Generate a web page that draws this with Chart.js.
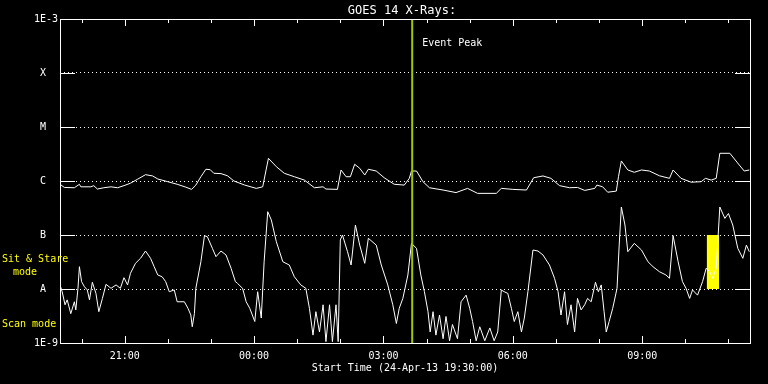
<!DOCTYPE html>
<html><head><meta charset="utf-8">
<script src="https://cdn.jsdelivr.net/npm/chart.js@4/dist/chart.umd.min.js"></script>
<style>html,body{margin:0;padding:0;background:#000;}canvas{display:block}</style>
</head><body>
<canvas id="c" width="768" height="384"></canvas>
<script>
// ---- text ----
const titleText = 'GOES 14 X-Rays:';
const startLabel = 'Start Time (24-Apr-13 19:30:00)';
const eventLabel = 'Event Peak';
const modeLabels = ['Sit & Stare', '  mode', 'Scan mode'];

// ---- axes (x in minutes since 19:30) ----
const xMin = 0, xMax = 960;
const xTickMinutes = [30, 90, 150, 210, 270, 330, 390, 450, 510, 570, 630, 690, 750, 810, 870, 930];
const xTickLabels  = ['', '21:00', '', '', '00:00', '', '', '03:00', '', '', '06:00', '', '', '09:00', '', ''];
const yTickValues = [1e-9, 1e-8, 1e-7, 1e-6, 1e-5, 1e-4, 1e-3];
const yTickLabels = ['1E-9', 'A  ', 'B  ', 'C  ', 'M  ', 'X  ', '1E-3'];

// ---- markers ----
const eventPeakMinute = 490;          // 03:40
const sitStareStart = 900, sitStareEnd = 917;   // 10:30 - 10:47
const sitStareLow = 1e-8, sitStareHigh = 1e-7;

// ---- 1-8 A channel (upper) ----
const longTimes = [
  0,6,20,27,29,43,47,52,61,71,
  80,89,98,108,119,129,136,150,163,175,
  183,189,196,203,209,214,224,233,242,257,
  273,282,290,301,312,326,340,354,366,370,
  386,391,398,404,410,417,424,429,440,451,
  465,479,486,489,496,505,514,533,551,567,
  581,607,614,630,649,659,672,683,695,709,
  720,730,744,747,755,762,774,777,781,790,
  799,809,820,834,848,853,864,878,892,898,
  906,913,918,932,945,952,959];
const longFlux = [
  0.87e-6,0.76e-6,0.75e-6,0.87e-6,0.78e-6,0.78e-6,0.82e-6,0.71e-6,0.75e-6,0.78e-6,
  0.75e-6,0.82e-6,0.91e-6,1.08e-6,1.31e-6,1.24e-6,1.09e-6,0.97e-6,0.87e-6,0.77e-6,
  0.70e-6,0.84e-6,1.20e-6,1.65e-6,1.62e-6,1.39e-6,1.37e-6,1.25e-6,1.00e-6,0.84e-6,
  0.73e-6,0.78e-6,2.63e-6,1.84e-6,1.39e-6,1.20e-6,1.04e-6,0.75e-6,0.78e-6,0.71e-6,
  0.70e-6,1.60e-6,1.20e-6,1.20e-6,2.04e-6,1.72e-6,1.29e-6,1.65e-6,1.53e-6,1.15e-6,
  0.87e-6,0.84e-6,1.12e-6,1.53e-6,1.53e-6,0.97e-6,0.75e-6,0.68e-6,0.61e-6,0.73e-6,
  0.59e-6,0.59e-6,0.73e-6,0.70e-6,0.68e-6,1.15e-6,1.24e-6,1.12e-6,0.82e-6,0.75e-6,
  0.76e-6,0.67e-6,0.73e-6,0.84e-6,0.78e-6,0.62e-6,0.65e-6,1.20e-6,2.35e-6,1.60e-6,
  1.45e-6,1.60e-6,1.53e-6,1.25e-6,1.12e-6,1.60e-6,1.12e-6,0.95e-6,0.97e-6,1.12e-6,
  1.04e-6,1.12e-6,3.26e-6,3.26e-6,1.98e-6,1.53e-6,1.60e-6];

// ---- 0.5-4 A channel (lower) ----
const shortTimes = [
  0,3,7,10,15,20,22,25,27,30,
  34,38,41,45,50,54,59,64,71,78,
  84,89,94,98,105,112,119,126,131,136,
  142,147,152,159,163,173,178,182,184,187,
  189,196,201,205,212,217,224,231,238,244,
  247,254,259,264,271,275,280,284,289,294,
  301,310,319,326,335,342,347,352,356,361,
  366,370,375,379,384,387,390,393,400,405,
  411,417,424,429,440,447,456,463,468,472,
  477,484,489,496,502,507,512,515,519,523,
  528,533,537,542,546,553,558,565,570,574,
  579,584,591,598,604,609,614,618,623,628,
  632,637,642,646,651,658,665,672,681,688,
  693,697,702,706,711,716,720,725,730,734,
  739,745,749,753,757,760,764,769,775,778,
  781,786,790,799,809,818,825,834,843,848,
  853,860,866,871,876,880,887,894,899,904,
  908,913,918,925,930,936,943,950,955,959];
const shortFlux = [
  1.19e-8,0.89e-8,0.51e-8,0.63e-8,0.35e-8,0.58e-8,0.41e-8,1.03e-8,2.59e-8,1.37e-8,
  1.10e-8,0.96e-8,0.63e-8,1.33e-8,0.83e-8,0.38e-8,0.67e-8,1.22e-8,1.03e-8,1.19e-8,
  1.03e-8,1.62e-8,1.19e-8,1.95e-8,2.99e-8,3.70e-8,5.05e-8,3.70e-8,2.59e-8,1.82e-8,
  1.69e-8,1.37e-8,0.89e-8,0.96e-8,0.58e-8,0.58e-8,0.44e-8,0.33e-8,0.20e-8,0.35e-8,
  1.03e-8,3.20e-8,9.7e-8,9.3e-8,5.67e-8,3.97e-8,5.05e-8,4.26e-8,2.42e-8,1.37e-8,
  1.27e-8,1.03e-8,0.58e-8,0.44e-8,0.25e-8,0.89e-8,0.29e-8,3.20e-8,27e-8,19e-8,
  7.5e-8,3.20e-8,2.78e-8,1.69e-8,1.19e-8,1.03e-8,0.44e-8,0.14e-8,0.38e-8,0.16e-8,
  0.51e-8,0.106e-8,0.51e-8,0.106e-8,0.51e-8,0.106e-8,8.1e-8,10e-8,4.9e-8,2.78e-8,
  15.3e-8,6.5e-8,2.99e-8,8.7e-8,6.5e-8,2.78e-8,1.19e-8,0.51e-8,0.23e-8,0.44e-8,
  0.67e-8,1.82e-8,7.0e-8,5.67e-8,1.82e-8,0.89e-8,0.38e-8,0.16e-8,0.38e-8,0.14e-8,
  0.33e-8,0.12e-8,0.31e-8,0.11e-8,0.22e-8,0.12e-8,0.58e-8,0.77e-8,0.44e-8,0.25e-8,
  0.11e-8,0.20e-8,0.11e-8,0.19e-8,0.11e-8,0.16e-8,0.96e-8,0.89e-8,0.83e-8,0.44e-8,
  0.25e-8,0.38e-8,0.16e-8,0.29e-8,0.89e-8,5.27e-8,5.05e-8,4.26e-8,2.78e-8,1.58e-8,
  0.89e-8,0.33e-8,0.89e-8,0.22e-8,0.51e-8,0.16e-8,0.67e-8,0.41e-8,0.51e-8,0.67e-8,
  0.58e-8,1.33e-8,0.89e-8,1.19e-8,0.38e-8,0.16e-8,0.25e-8,0.44e-8,1.03e-8,6.5e-8,
  33e-8,15.3e-8,4.9e-8,7.0e-8,5.27e-8,3.20e-8,2.59e-8,2.09e-8,1.82e-8,1.58e-8,
  9.7e-8,3.20e-8,1.37e-8,1.03e-8,0.67e-8,0.96e-8,0.77e-8,1.37e-8,2.42e-8,2.09e-8,
  1.58e-8,2.42e-8,33e-8,20.3e-8,25e-8,15.3e-8,5.67e-8,3.70e-8,6.5e-8,4.9e-8];

const MONO = 'DejaVu Sans Mono';
const px = v => Math.round(v) + 0.5;

const overlay = {
  id: 'overlay',
  beforeDraw(chart) {
    const c = chart.ctx;
    c.save(); c.fillStyle = '#000'; c.fillRect(0, 0, chart.width, chart.height); c.restore();
  },
  beforeDatasetsDraw(chart) {
    const c = chart.ctx, xs = chart.scales.x, ys = chart.scales.y;
    const x0 = xs.getPixelForValue(sitStareStart), x1 = xs.getPixelForValue(sitStareEnd);
    const y0 = ys.getPixelForValue(sitStareHigh), y1 = ys.getPixelForValue(sitStareLow);
    c.save(); c.fillStyle = '#ffff00'; c.fillRect(x0, y0, x1 - x0, y1 - y0); c.restore();
  },
  afterDatasetsDraw(chart) {
    const c = chart.ctx, xs = chart.scales.x, ys = chart.scales.y, a = chart.chartArea;
    c.save();
    // event peak line
    const ex = xs.getPixelForValue(eventPeakMinute);
    c.strokeStyle = '#a0c800'; c.lineWidth = 2;
    c.beginPath(); c.moveTo(ex, a.top); c.lineTo(ex, a.bottom); c.stroke();
    // frame
    c.strokeStyle = '#fff'; c.lineWidth = 1;
    c.strokeRect(px(a.left), px(a.top), Math.round(a.right - a.left), Math.round(a.bottom - a.top));
    // x ticks top & bottom
    c.beginPath();
    xs.ticks.forEach((t, i) => {
      const x = px(xs.getPixelForValue(t.value));
      const len = xTickLabels[i] ? 7 : 4;
      c.moveTo(x, a.bottom); c.lineTo(x, a.bottom - len);
      c.moveTo(x, a.top); c.lineTo(x, a.top + len);
    });
    // y ticks left & right
    ys.ticks.forEach(t => {
      const y = px(ys.getPixelForValue(t.value));
      c.moveTo(a.left, y); c.lineTo(a.left + 15, y);
      c.moveTo(a.right, y); c.lineTo(a.right - 15, y);
    });
    c.stroke();
    // texts
    c.fillStyle = '#fff';
    c.font = '12px "' + MONO + '"';
    c.textAlign = 'center'; c.textBaseline = 'alphabetic';
    c.fillText(titleText, 402, 14);
    c.font = '10px "' + MONO + '"';
    c.textAlign = 'left';
    c.fillText(eventLabel, ex + 10, 46);
    c.fillStyle = '#ffff00';
    c.fillText(modeLabels[0], 2, 262);
    c.fillText(modeLabels[1], 1, 275);
    c.fillText(modeLabels[2], 2, 327);
    c.restore();
  }
};

new Chart(document.getElementById('c'), {
  type: 'line',
  data: {
    datasets: [
      { label: '0.5-4.0 A', data: shortTimes.map((t, i) => ({ x: t, y: shortFlux[i] })),
        borderColor: '#ffffff', borderWidth: 1, pointRadius: 0, tension: 0, fill: false },
      { label: '1.0-8.0 A', data: longTimes.map((t, i) => ({ x: t, y: longFlux[i] })),
        borderColor: '#ffffff', borderWidth: 1, pointRadius: 0, tension: 0, fill: false }
    ]
  },
  options: {
    responsive: false, animation: false, devicePixelRatio: 1,
    layout: { padding: { left: 0, right: 18, top: 19, bottom: 0 } },
    plugins: { legend: { display: false }, tooltip: { enabled: false }, title: { display: false } },
    scales: {
      x: {
        type: 'linear', min: xMin, max: xMax,
        afterBuildTicks: s => { s.ticks = xTickMinutes.map(v => ({ value: v })); },
        afterFit: s => { s.height = 41; },
        grid: { display: false, drawTicks: false },
        border: { display: false },
        ticks: { autoSkip: false, maxRotation: 0, color: '#fff', padding: 7,
                 font: { family: MONO, size: 10 }, callback: (v, i) => xTickLabels[i] },
        title: { display: true, text: startLabel, color: '#fff',
                 font: { family: MONO, size: 10 }, padding: { top: 0, bottom: 10 } }
      },
      y: {
        type: 'logarithmic', min: 1e-9, max: 1e-3,
        afterBuildTicks: s => { s.ticks = yTickValues.map(v => ({ value: v })); },
        afterFit: s => { s.width = 60; },
        grid: { color: '#ffffff', lineWidth: 1, drawTicks: false },
        border: { display: false, dash: [1, 3] },
        ticks: { autoSkip: false, color: '#fff', padding: 2,
                 font: { family: MONO, size: 10 }, callback: (v, i) => yTickLabels[i] }
      }
    }
  },
  plugins: [overlay]
});
</script>
</body></html>
